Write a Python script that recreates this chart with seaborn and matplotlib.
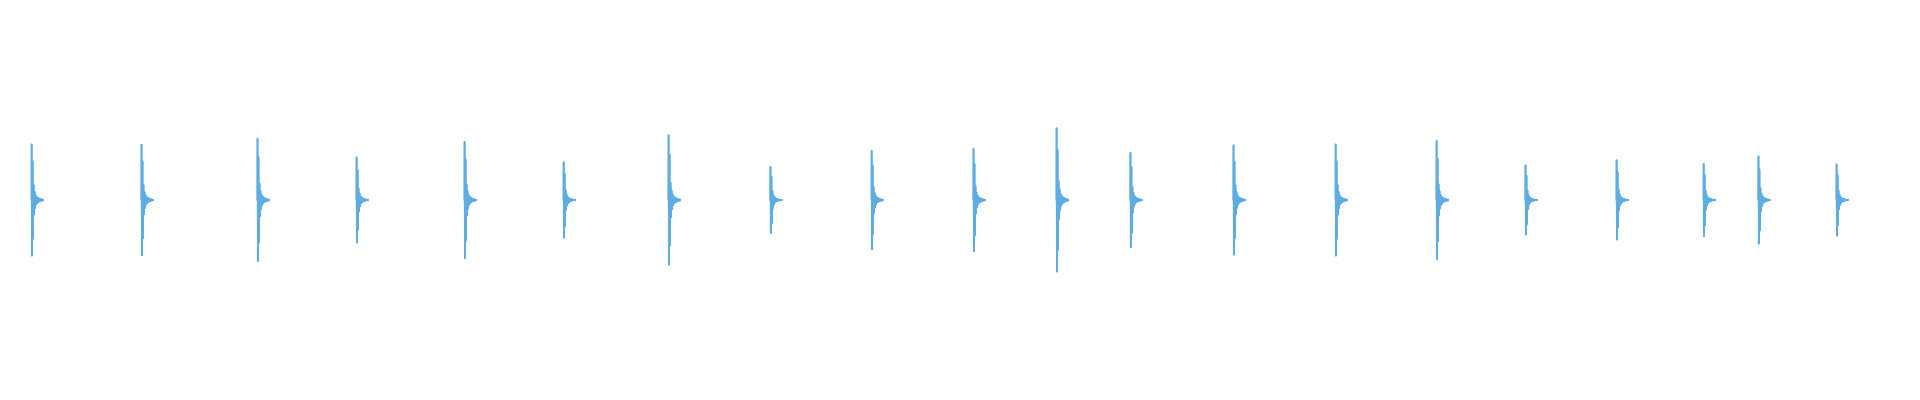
import numpy as np
import pandas as pd
import seaborn as sns
import matplotlib.pyplot as plt

# Onset time (s) of each click (12 s across the width)
click_times = [0.196, 0.883, 1.608, 2.227, 2.902, 3.521, 4.177, 4.814, 5.446, 6.083,
               6.602, 7.064, 7.708, 8.346, 8.977, 9.533, 10.102, 10.646, 10.989, 11.477]
# Peak amplitude of each click
click_peaks = [0.280, 0.278, 0.307, 0.215, 0.292, 0.190, 0.325, 0.167, 0.247, 0.257,
               0.360, 0.237, 0.275, 0.280, 0.297, 0.175, 0.200, 0.182, 0.220, 0.180]
# Decay of the ringing after the hit (fraction of peak, one value per ~6 ms)
decay = [1.0, 0.70, 0.27, 0.15, 0.09, 0.06, 0.045, 0.035, 0.025, 0.02, 0.015, 0.012]

duration = 12.0
sub = 4  # samples per decay step
dt = duration / 1920 / sub

# Build a table of samples, one unit per click
rows = []
for i, (t0, peak) in enumerate(zip(click_times, click_peaks)):
    rows.append((i, t0 - dt, 0.0))
    for k in range(len(decay) * sub):
        sign = 1 if k % 2 == 0 else -1
        rows.append((i, t0 + k * dt, sign * peak * decay[k // sub]))
    rows.append((i, t0 + len(decay) * sub * dt, 0.0))
wave = pd.DataFrame(rows, columns=['click', 'time', 'amplitude'])

fig = plt.figure(figsize=(19.2, 4), dpi=100)
ax = fig.add_axes([0, 0, 1, 1])
sns.lineplot(data=wave, x='time', y='amplitude', units='click', estimator=None,
             color='#5DADE2', linewidth=0.8, ax=ax, legend=False)
ax.set_xlim(0, duration)
ax.set_ylim(-1, 1)
ax.axis('off')

fig.savefig('out.png', dpi=100, facecolor='white')
